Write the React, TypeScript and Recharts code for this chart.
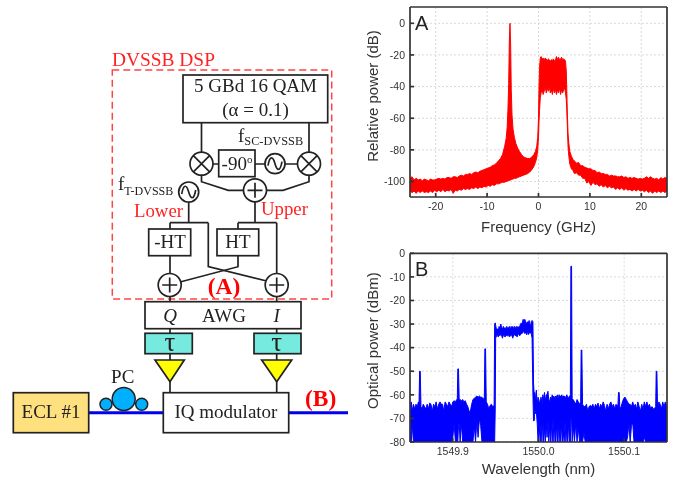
import React from "react";
import { ComposedChart, Area, XAxis, YAxis, CartesianGrid } from "recharts";

type Row = [number, number, number]; // x, upper, lower

const freqTicks = [-20, -10, 0, 10, 20];
const relPowerTicks = [0, -20, -40, -60, -80, -100];
const waveTicks = [1549.9, 1550.0, 1550.1];
const optPowerTicks = [0, -10, -20, -30, -40, -50, -60, -70, -80];

const leftWingA: Row[] = [
  [-25,-98,-106],[-24.6,-97,-107],[-24.2,-99,-106],[-23.8,-98,-107.5],[-23.4,-99,-106],[-23,-98.5,-107],[-22.6,-99.5,-106],[-22.2,-98.5,-107],
  [-21.8,-99,-106.5],[-21.4,-99.5,-107],[-21,-98.5,-106],[-20.6,-99,-107],[-20.2,-99,-105.5],[-19.8,-98.5,-106.5],[-19.4,-98,-105.5],[-19,-98.5,-106.5],
  [-18.6,-98,-105],[-18.2,-98.5,-106.5],[-17.8,-97.5,-105.5],[-17.4,-97.5,-106],[-17,-98,-105],[-16.6,-97,-107.5],[-16.2,-97,-105.5],[-15.8,-97.5,-106],
  [-15.4,-96.5,-105],[-15,-96,-105.5],[-14.6,-96.5,-104.5],[-14.2,-95.5,-105],[-13.8,-95.5,-104.5],[-13.4,-95,-105],[-13,-95.5,-104],[-12.6,-94.5,-104.5],
  [-12.2,-94,-103.5],[-11.8,-94.5,-104.5],[-11.4,-93.5,-103.5],[-11,-93,-104],[-10.6,-92.5,-103],[-10.2,-92,-103.5],[-9.8,-91.5,-102.5],[-9.4,-91,-103],
  [-9,-90,-102],[-8.6,-89.5,-102.5],[-8.2,-88.5,-101.5],[-7.8,-87,-101.5],[-7.4,-85.5,-101],[-7,-83,-100.5],
];
const spikeA: Row[] = [
  [-6.6,-78,-100.5],[-6.3,-73,-100],[-6.1,-66,-100],[-5.95,-55,-99.5],[-5.8,-38,-99.5],[-5.68,-12,-99.5],[-5.55,0,-99],[-5.42,-14,-99],[-5.3,-42,-99],
  [-5.15,-58,-98.5],[-4.95,-67,-98.5],[-4.7,-72,-98],[-4.4,-76,-98],[-4.05,-79,-97.5],[-3.7,-81,-97],[-3.3,-83,-96.5],[-2.9,-84.5,-96],[-2.5,-85,-95.5],
  [-2.1,-85.5,-95],[-1.7,-85.5,-94],[-1.3,-84.5,-92.5],[-0.9,-83,-90.5],[-0.6,-81,-88],[-0.35,-78,-85],[-0.15,-72,-80],[0,-60,-72],[0.1,-40,-62],[0.2,-28,-55],[0.35,-22,-47],
];
const bandA: Row[] = [
  [0.5,-21,-44],[0.7,-22.5,-42],[0.9,-22,-45],[1.1,-23,-43],[1.3,-22,-40],[1.5,-22.5,-44],[1.7,-24,-41],[1.9,-22.5,-43],[2.1,-23,-40],[2.3,-24,-44],
  [2.5,-23,-42],[2.7,-23.5,-45],[2.9,-22.5,-41],[3.1,-24,-44],[3.3,-23,-42],[3.5,-21,-45],[3.7,-23,-42],[3.9,-21.5,-44],[4.1,-23,-41],[4.3,-22.5,-45],
  [4.5,-21.5,-42],[4.7,-23,-44],[4.9,-22.5,-42],[5.1,-23,-41],[5.25,-24,-44],
];
const rightWingA: Row[] = [
  [5.4,-30,-48],[5.5,-42,-54],[5.6,-56,-64],[5.75,-70,-78],[5.9,-76,-84],[6.1,-81,-89],[6.4,-84,-92],[6.7,-86,-93],[7,-87,-95],[7.4,-88.5,-94.5],
  [7.8,-88,-96],[8.2,-90,-96],[8.6,-90,-98],[9,-91,-98],[9.4,-91.5,-101],[9.8,-92,-100],[10.2,-92,-102.5],[10.6,-93,-100.5],[11,-93,-102],[11.4,-94.5,-101.5],
  [11.8,-94,-103],[12.2,-95,-102],[12.6,-95,-103.5],[13,-95.5,-102.5],[13.4,-95.5,-104],[13.8,-96.5,-103],[14.2,-96,-104],[14.6,-96.5,-103.5],[15,-96.5,-105],
  [15.4,-97,-104],[15.8,-97,-105],[16.2,-96.5,-104],[16.6,-97.5,-105.5],[17,-97,-104.5],[17.4,-98,-105.5],[17.8,-97.5,-105],[18.2,-98,-106],[18.6,-97.5,-105],
  [19,-98,-106],[19.4,-98.5,-105],[19.8,-98,-106],[20.2,-98.5,-105.5],[20.6,-98,-106.5],[21,-97,-105.5],[21.4,-98,-107],[21.8,-97,-106],[22.2,-98,-107.5],
  [22.6,-98.5,-106],[23,-98,-107],[23.4,-99,-106],[23.8,-97.5,-107],[24.2,-98.5,-106],[24.6,-97.5,-107],[25,-98,-106],
];

const leftNoiseB: Row[] = [
  [1549.85,-66,-80],[1549.8515,-63,-80],[1549.8525,-67,-72],[1549.854,-64,-80],[1549.8555,-66,-80],[1549.857,-64,-80],[1549.8585,-65,-80],[1549.8598,-63,-80],
  [1549.8605,-65,-80],[1549.8612,-50,-80],[1549.862,-50,-80],[1549.8628,-65,-80],[1549.864,-66,-80],[1549.8655,-64,-80],[1549.867,-65,-80],[1549.8685,-66,-80],
  [1549.87,-64,-80],[1549.8715,-66,-80],[1549.873,-63.5,-80],[1549.8745,-64,-80],[1549.876,-67,-80],[1549.8775,-64,-80],[1549.879,-65,-80],[1549.8805,-63,-80],
  [1549.882,-66,-80],[1549.8835,-64,-80],[1549.885,-63,-80],[1549.8865,-64,-80],[1549.888,-64,-80],[1549.8895,-67,-80],[1549.891,-63,-80],[1549.8925,-64,-80],
  [1549.894,-65,-80],[1549.8955,-63,-80],[1549.897,-64,-80],[1549.8985,-65,-80],[1549.9,-63,-78],[1549.9015,-62.5,-72],[1549.903,-63,-80],[1549.9045,-62,-80],
  [1549.9052,-62,-80],[1549.9058,-49,-80],[1549.9066,-49,-73],[1549.9074,-62,-72],[1549.9085,-62,-80],[1549.91,-62.5,-72],[1549.9115,-62,-80],[1549.913,-63,-80],
  [1549.9145,-62.5,-80],[1549.916,-64,-80],[1549.9175,-65,-80],[1549.919,-67,-80],[1549.9205,-67,-80],[1549.922,-64,-80],[1549.9235,-62,-80],[1549.925,-61.5,-73],
  [1549.9265,-61,-80],[1549.928,-60.5,-71],[1549.9295,-61,-78],[1549.931,-60.5,-70],[1549.9325,-61,-73],[1549.934,-61,-80],[1549.9355,-62,-80],[1549.9368,-61,-80],
  [1549.9374,-40.5,-80],[1549.9382,-40.5,-80],[1549.939,-63,-80],[1549.9405,-64,-80],[1549.942,-66,-80],[1549.9435,-64.5,-80],[1549.945,-64,-80],[1549.9465,-65,-80],[1549.9482,-64.5,-80],
];
const bandB: Row[] = [
  [1549.9488,-30,-80],[1549.9495,-29.5,-66],[1549.95,-30.5,-36],[1549.951,-32.5,-35],[1549.952,-32,-34.5],[1549.953,-33,-35.5],[1549.954,-31,-34],[1549.955,-32,-35],
  [1549.956,-30,-34],[1549.957,-31.5,-35],[1549.958,-32,-36],[1549.959,-31,-34.5],[1549.96,-32,-35],[1549.961,-31.5,-35.5],[1549.962,-32,-34.5],[1549.963,-31,-35],
  [1549.964,-32,-35],[1549.965,-31.5,-34.5],[1549.966,-31,-35.5],[1549.967,-32.5,-35],[1549.968,-31,-34.5],[1549.969,-31.5,-35],[1549.97,-31,-36],[1549.971,-32,-34.5],
  [1549.972,-31,-34.5],[1549.973,-32,-35],[1549.974,-31,-34.5],[1549.975,-32,-35.5],[1549.976,-31,-34],[1549.977,-31.5,-34.5],[1549.978,-31,-35],[1549.979,-30,-34.5],
  [1549.98,-29.5,-34],[1549.981,-30,-34],[1549.982,-28,-33.5],[1549.983,-29,-33],[1549.984,-28,-34],[1549.985,-29,-33.5],[1549.986,-30,-34.5],[1549.987,-29,-33],
  [1549.988,-30,-34.5],[1549.989,-28.5,-33],[1549.99,-30,-34],[1549.991,-31,-33.5],[1549.9915,-29,-34],[1549.9925,-28.5,-36],[1549.9935,-29,-60],
];
const rightNoiseB: Row[] = [
  [1549.9942,-55,-71],[1549.995,-60,-71],[1549.9957,-59,-66],[1549.9965,-62,-68],[1549.9975,-58,-67],[1549.9985,-64,-72],[1549.9995,-61,-80],[1550.001,-64,-74],
  [1550.002,-62,-80],[1550.003,-61,-72],[1550.004,-64,-80],[1550.005,-60,-70],[1550.006,-62,-80],[1550.007,-59,-74],[1550.008,-63,-80],[1550.009,-60,-72],
  [1550.01,-60,-78],[1550.011,-58.5,-71],[1550.012,-62,-80],[1550.013,-63,-73],[1550.014,-61,-80],[1550.015,-62,-72],[1550.016,-60,-80],[1550.017,-61,-70],
  [1550.018,-60.5,-80],[1550.019,-62,-72],[1550.02,-60.5,-80],[1550.021,-61,-73],[1550.022,-60,-80],[1550.023,-62,-71],[1550.024,-60,-80],[1550.025,-61,-74],
  [1550.026,-60.5,-80],[1550.027,-60,-72],[1550.028,-61,-80],[1550.029,-60.5,-76],[1550.03,-60.5,-80],[1550.031,-61,-71],[1550.032,-61,-80],[1550.033,-60,-74],
  [1550.034,-61,-80],[1550.035,-61,-72],[1550.036,-61,-80],[1550.0372,-60,-80],[1550.0378,-5.5,-70],[1550.0386,-5.5,-70],[1550.0393,-62,-80],[1550.0405,-62,-73],
  [1550.042,-63,-80],[1550.0435,-64,-72],[1550.045,-62,-80],[1550.0465,-63,-74],[1550.048,-64,-80],[1550.0492,-63,-80],[1550.0498,-41,-80],[1550.0506,-41,-80],
  [1550.0514,-64,-80],[1550.053,-65,-76],[1550.0545,-65,-80],[1550.056,-64,-80],[1550.0575,-67,-80],[1550.059,-65,-80],[1550.0605,-64.5,-80],[1550.062,-65,-80],
  [1550.0635,-64,-80],[1550.065,-66,-80],[1550.0665,-64,-80],[1550.068,-65,-80],[1550.0695,-63.5,-80],[1550.071,-66,-80],[1550.0725,-64,-80],[1550.074,-65,-80],
  [1550.0755,-63,-80],[1550.077,-64.5,-80],[1550.0785,-67,-80],[1550.08,-64,-80],[1550.0815,-66,-80],[1550.083,-64,-80],[1550.0845,-63,-80],[1550.086,-65,-80],
  [1550.0875,-64,-80],[1550.089,-66,-80],[1550.0905,-64,-80],[1550.092,-65,-80],[1550.0928,-64,-80],[1550.0934,-59,-80],[1550.0942,-59,-80],[1550.095,-66,-80],
  [1550.0965,-65,-80],[1550.098,-63,-80],[1550.0995,-61.5,-80],[1550.101,-61,-80],[1550.1025,-62,-80],[1550.104,-63,-78],[1550.1055,-64,-72],[1550.107,-64,-80],
  [1550.1085,-65,-73],[1550.11,-63,-72],[1550.1115,-65,-80],[1550.113,-64,-80],[1550.1145,-66,-80],[1550.116,-63,-80],[1550.1175,-65,-80],[1550.119,-67,-80],
  [1550.1205,-64,-80],[1550.122,-66,-80],[1550.1235,-63,-78],[1550.125,-65,-80],[1550.1265,-63,-80],[1550.128,-65,-80],[1550.1295,-64,-80],[1550.131,-66,-80],
  [1550.1325,-65,-80],[1550.134,-66,-80],[1550.135,-66,-80],[1550.1368,-65,-80],[1550.1374,-50,-80],[1550.1382,-50,-80],[1550.139,-66,-80],[1550.1405,-63,-80],
  [1550.142,-64,-80],[1550.1435,-66,-80],[1550.145,-63,-80],[1550.1465,-65,-80],[1550.148,-63,-80],[1550.15,-65,-80],
];

const toRows = (rows: Row[]) => rows.map(([x, hi, lo]) => ({ x, band: [lo, hi] as [number, number] }));
const dataA = toRows([...leftWingA, ...spikeA, ...bandA, ...rightWingA]);
const dataB = toRows([...leftNoiseB, ...bandB, ...rightNoiseB]);

const INK = "#333";
const tickStyle = { fontSize: 10.5, fontFamily: "'Liberation Sans', Arial, sans-serif", fill: "#333" };

interface PanelProps {
  data: { x: number; band: [number, number] }[];
  xDomain: [number, number];
  yDomain: [number, number];
  xTicks: number[];
  yTicks: number[];
  color: string;
  xFmt: (v: number) => string;
  left: number; top: number; width: number; height: number;
  mTop: number; xH: number; yW: number; mRight: number;
  xTitle: string; yTitle: string; titleOffset: number; yTitleDy: number;
}

function Panel(p: PanelProps) {
  const titleStyle = { fontSize: 15, fontFamily: "'Liberation Sans', Arial, sans-serif", fill: "#333" };
  return (
    <div style={{ position: "absolute", left: p.left, top: p.top }}>
      <ComposedChart width={p.width} height={p.height} data={p.data} margin={{ top: p.mTop - 1, right: p.mRight - 1, left: 0, bottom: 0 }}>
        <CartesianGrid stroke="#d9d9d9" strokeDasharray="2 2" horizontalValues={p.yTicks} verticalValues={p.xTicks} />
        <XAxis dataKey="x" type="number" domain={p.xDomain} ticks={p.xTicks} interval={0} allowDataOverflow height={p.xH}
          tickSize={-4} tickMargin={10} tick={tickStyle} tickFormatter={p.xFmt} stroke={INK} strokeWidth={1.7}
          label={{ value: p.xTitle, position: "insideBottom", offset: p.titleOffset, style: titleStyle }} />
        <XAxis xAxisId="top" dataKey="x" orientation="top" type="number" domain={p.xDomain} ticks={p.xTicks} interval={0} allowDataOverflow height={1}
          tickSize={-4} tick={false} stroke={INK} strokeWidth={1.7} />
        <YAxis type="number" domain={p.yDomain} ticks={p.yTicks} interval={0} allowDataOverflow width={p.yW}
          tickSize={-4} tickMargin={9} tick={tickStyle} stroke={INK} strokeWidth={1.7}
          label={{ value: p.yTitle, angle: -90, position: "insideLeft", offset: 0, dx: 33, dy: p.yTitleDy, style: { ...titleStyle, textAnchor: "middle" } }} />
        <YAxis yAxisId="right" orientation="right" type="number" domain={p.yDomain} ticks={p.yTicks} interval={0} allowDataOverflow width={1}
          tickSize={-4} tick={false} stroke={INK} strokeWidth={1.7} />
        <Area dataKey="band" type="linear" stroke={p.color} strokeWidth={1} fill={p.color} fillOpacity={1}
          dot={false} activeDot={false} isAnimationActive={false} />
        <Area xAxisId="top" yAxisId="right" dataKey="band" type="linear" stroke="none" fill="none"
          dot={false} activeDot={false} isAnimationActive={false} />
      </ComposedChart>
    </div>
  );
}

const S = "#222";
const serif = "'Liberation Serif', 'Times New Roman', serif";
const sans = "'Liberation Sans', Arial, sans-serif";

function Mixer({ cx, cy }: { cx: number; cy: number }) {
  const d = 8.1;
  return (
    <g stroke={S} strokeWidth={1.7} fill="#fff">
      <circle cx={cx} cy={cy} r={11.5} />
      <path d={`M${cx - d} ${cy - d}L${cx + d} ${cy + d}M${cx + d} ${cy - d}L${cx - d} ${cy + d}`} />
    </g>
  );
}
function Sum({ cx, cy }: { cx: number; cy: number }) {
  return (
    <g stroke={S} strokeWidth={1.7} fill="#fff">
      <circle cx={cx} cy={cy} r={11.5} />
      <path d={`M${cx - 7.5} ${cy}H${cx + 7.5}M${cx} ${cy - 7.5}V${cy + 7.5}`} />
    </g>
  );
}
function Osc({ cx, cy }: { cx: number; cy: number }) {
  return (
    <g stroke={S} strokeWidth={1.7} fill="#fff">
      <circle cx={cx} cy={cy} r={10} />
      <path fill="none" d={`M${cx - 7} ${cy + 2}C${cx - 5} ${cy - 9} ${cx - 2} ${cy - 7} ${cx} ${cy}S${cx + 5} ${cy + 9} ${cx + 7} ${cy - 2}`} />
    </g>
  );
}
function Box({ x, y, x2, y2, fill = "#fff" }: { x: number; y: number; x2: number; y2: number; fill?: string }) {
  return <rect x={x} y={y} width={x2 - x} height={y2 - y} fill={fill} stroke={S} strokeWidth={1.7} />;
}
function T({ x, y, size = 19, anchor = "middle", fill = S, bold = false, italic = false, family = serif, children }: any) {
  return (
    <text x={x} y={y} fontSize={size} textAnchor={anchor} fill={fill} fontFamily={family}
      fontWeight={bold ? "bold" : "normal"} fontStyle={italic ? "italic" : "normal"}>{children}</text>
  );
}

function Schematic() {
  return (
    <svg width={679} height={479} style={{ position: "absolute", left: 0, top: 0, pointerEvents: "none" }}>
      <rect x={112.3} y={70} width={219.4} height={229} fill="none" stroke="#f44" strokeWidth={1.5} strokeDasharray="7 4" />
      <T x={112} y={66} anchor="start" fill="#f22" size={19.4}>DVSSB DSP</T>

      <g stroke={S} strokeWidth={1.7} fill="none">
        <path d="M201.5 122V164M309 122V164M201.5 164H309" />
        <path d="M201.5 175V181.7L228.3 190.3H255M309 175V181.7L283 190.3H255" />
        <path d="M188.7 202V222.7M170 222.7H208.3M170 222.7V285M208.3 222.7V266.7L266.7 281" />
        <path d="M255 190V222.7M238 222.7H276.7M238 222.7V266.7L181 281.7M276.7 222.7V302" />
        <path d="M170 285V302M170 328V361M276.7 328V361M170 381V393M276.7 381V393" />
      </g>

      <Box x={183} y={75} x2={327.7} y2={122.7} />
      <T x={255.5} y={92}>5 GBd 16 QAM</T>
      <T x={255.5} y={116}>(α = 0.1)</T>

      <Mixer cx={201.5} cy={163.7} />
      <Mixer cx={309} cy={163.7} />
      <Box x={218.7} y={150} x2={255} y2={176.7} />
      <text x={237} y={170} fontSize={19} textAnchor="middle" fill={S} fontFamily={serif}>-90<tspan fontSize={11} dy={-7}>o</tspan></text>
      <Osc cx={275} cy={163.7} />
      <text x={238} y={141.7} fontSize={19} fill={S} fontFamily={serif}>f<tspan fontSize={12.3} dy={3.5}>SC-DVSSB</tspan></text>

      <Sum cx={255} cy={190.3} />
      <Osc cx={188.7} cy={192} />
      <text x={118} y={190} fontSize={19} fill={S} fontFamily={serif}>f<tspan fontSize={12} dy={4.5}>T-DVSSB</tspan></text>

      <T x={134} y={216.5} anchor="start" fill="#f22" size={18.8}>Lower</T>
      <T x={261} y={215} anchor="start" fill="#f22" size={18.8}>Upper</T>

      <Box x={148.7} y={229} x2={190.7} y2={255.7} />
      <T x={170} y={248}>-HT</T>
      <Box x={217} y={229} x2={258.7} y2={255.7} />
      <T x={238} y={248}>HT</T>

      <Sum cx={169.7} cy={285} />
      <Sum cx={276.7} cy={285} />
      <T x={224} y={294} size={23.5} bold fill="#f00">(A)</T>

      <Box x={145} y={301.7} x2={301} y2={328.7} />
      <T x={170} y={322} italic>Q</T>
      <T x={224} y={322}>AWG</T>
      <T x={276.7} y={322} italic>I</T>

      <Box x={145} y={333.3} x2={192.3} y2={353.7} fill="#76eadf" />
      <Box x={254} y={333.3} x2={301} y2={353.7} fill="#76eadf" />
      <T x={170} y={351} size={27}>τ</T>
      <T x={276.7} y={351} size={27}>τ</T>

      <path d="M155 360H184.3L170 381.7Z" fill="#ffff00" stroke={S} strokeWidth={1.7} />
      <path d="M261.7 360H291.7L276.7 381.7Z" fill="#ffff00" stroke={S} strokeWidth={1.7} />

      <path d="M88 412.7H164M288 412.7H348" stroke="#0000ee" strokeWidth={3} fill="none" />
      <Box x={13.3} y={392.7} x2={88.7} y2={432.7} fill="#ffe07f" />
      <T x={51} y={417.7}>ECL #1</T>
      <Box x={163.3} y={392.7} x2={288.7} y2={432.7} />
      <T x={226} y={417.7}>IQ modulator</T>

      <g fill="#00b0ff" stroke={S} strokeWidth={1.5}>
        <circle cx={106} cy={404.3} r={6} />
        <circle cx={141.7} cy={404.3} r={6} />
        <circle cx={123.7} cy={399} r={11.5} />
      </g>
      <T x={122.7} y={383.3}>PC</T>
      <T x={320.7} y={406} size={23.5} bold fill="#f00">(B)</T>

      <T x={415} y={30} anchor="start" size={20} family={sans} fill="#222">A</T>
      <T x={415} y={276} anchor="start" size={20} family={sans} fill="#222">B</T>
    </svg>
  );
}

export default function App() {
  return (
    <div style={{ position: "absolute", left: 0, top: 0, width: 679, height: 479, background: "#fff", overflow: "hidden", filter: "blur(0.35px)" }}>
      <Panel data={dataA} xDomain={[-25, 25]} yDomain={[-109.8, 10.3]} xTicks={freqTicks} yTicks={relPowerTicks} color="#ff0000"
        xFmt={(v) => String(v)} left={340} top={0} width={339} height={240} mTop={7} xH={43} yW={70} mRight={12}
        xTitle="Frequency (GHz)" yTitle="Relative power (dB)" titleOffset={8} yTitleDy={-6} />
      <Panel data={dataB} xDomain={[1549.85, 1550.15]} yDomain={[-80, 0]} xTicks={waveTicks} yTicks={optPowerTicks} color="#0000ff"
        xFmt={(v) => v.toFixed(1)} left={340} top={240} width={339} height={239} mTop={13.3} xH={37} yW={70} mRight={12}
        xTitle="Wavelength (nm)" yTitle="Optical power (dBm)" titleOffset={5} yTitleDy={-7} />
      <Schematic />
    </div>
  );
}
